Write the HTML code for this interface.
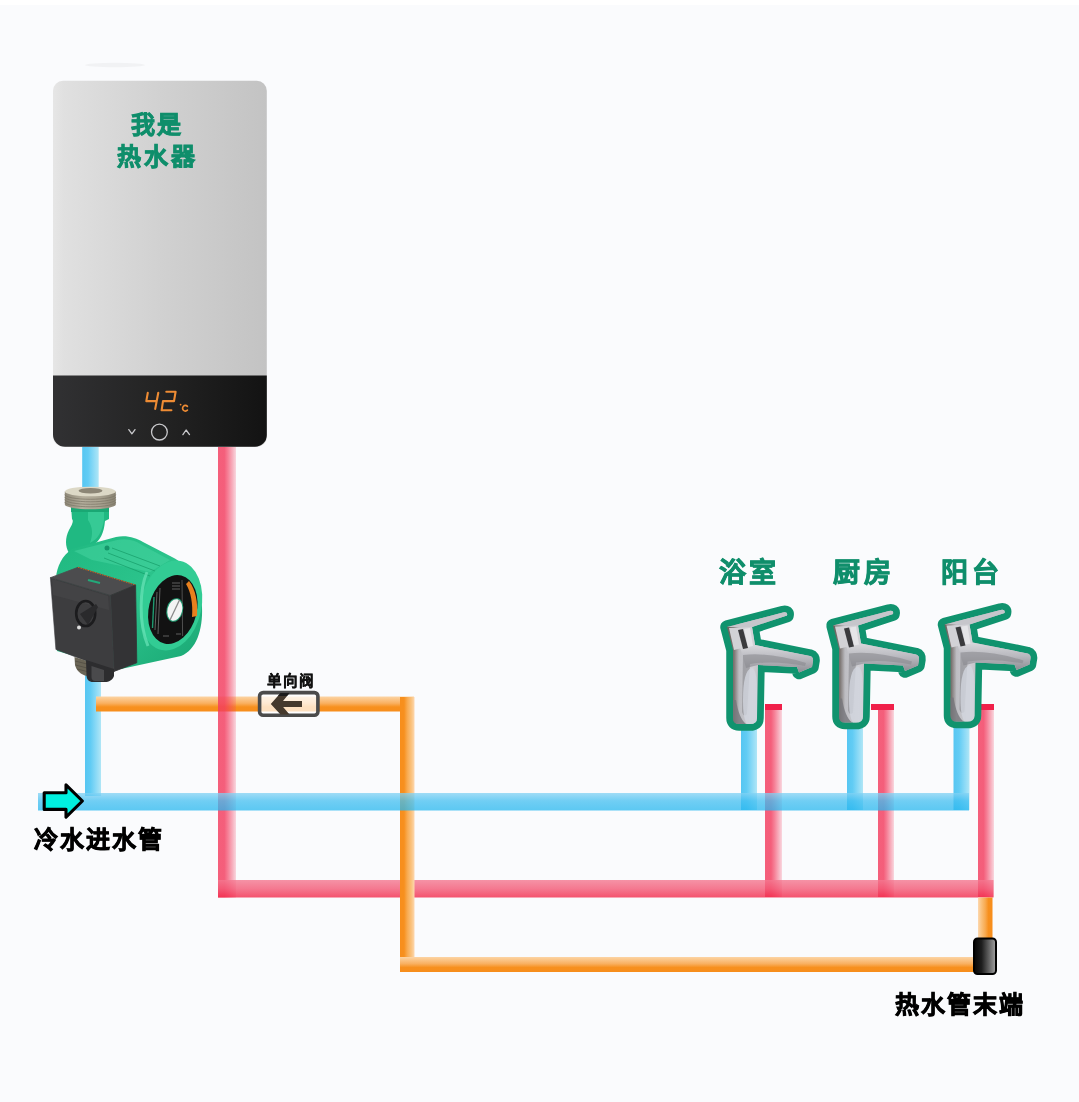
<!DOCTYPE html>
<html lang="zh-CN"><head><meta charset="utf-8">
<style>
html,body{margin:0;padding:0;}
body{width:1079px;height:1102px;position:relative;overflow:hidden;background:#fafbfd;font-family:"Liberation Sans",sans-serif;}
.top{position:absolute;left:0;top:0;width:1079px;height:5px;background:#ffffff;}
svg{position:absolute;left:0;top:0;}
.t{position:absolute;white-space:nowrap;font-weight:bold;line-height:1;-webkit-text-stroke:0.8px currentColor;will-change:transform;}
.g{color:#0f8e6b;}
</style></head>
<body>
<div class="top"></div>
<svg width="1079" height="1102" viewBox="0 0 1079 1102">
<defs>
  <linearGradient id="heater" x1="0" y1="0" x2="1" y2="0">
    <stop offset="0" stop-color="#e6e6e6"/>
    <stop offset="0.05" stop-color="#e0e0e0"/>
    <stop offset="0.5" stop-color="#d1d1d1"/>
    <stop offset="1" stop-color="#c3c3c3"/>
  </linearGradient>
  <linearGradient id="panel" x1="0" y1="0" x2="1" y2="0">
    <stop offset="0" stop-color="#313133"/>
    <stop offset="0.5" stop-color="#232323"/>
    <stop offset="1" stop-color="#131313"/>
  </linearGradient>
  <!-- vertical pipes: left solid -> right light -->
  <linearGradient id="bv" x1="0" y1="0" x2="1" y2="0">
    <stop offset="0" stop-color="#56c6f2"/>
    <stop offset="0.35" stop-color="#62ccf4"/>
    <stop offset="0.65" stop-color="#86d8f6"/>
    <stop offset="1" stop-color="#b0e6f6"/>
  </linearGradient>
  <linearGradient id="rv" x1="0" y1="0" x2="1" y2="0">
    <stop offset="0" stop-color="#f33c5e" stop-opacity="0.82"/>
    <stop offset="0.35" stop-color="#f33c5e" stop-opacity="0.82"/>
    <stop offset="0.55" stop-color="#f33c5e" stop-opacity="0.65"/>
    <stop offset="0.8" stop-color="#f33c5e" stop-opacity="0.40"/>
    <stop offset="1" stop-color="#f33c5e" stop-opacity="0.19"/>
  </linearGradient>
  <linearGradient id="ov" x1="0" y1="0" x2="1" y2="0">
    <stop offset="0" stop-color="#f78e1c"/>
    <stop offset="0.28" stop-color="#f7901e"/>
    <stop offset="0.5" stop-color="#f8aa50"/>
    <stop offset="0.8" stop-color="#fac482"/>
    <stop offset="1" stop-color="#fdd8b0"/>
  </linearGradient>
  <!-- horizontal pipes: top light -> bottom solid -->
  <linearGradient id="bh" x1="0" y1="0" x2="0" y2="1">
    <stop offset="0" stop-color="#82d2f4"/>
    <stop offset="0.45" stop-color="#42bff1"/>
    <stop offset="1" stop-color="#27b7ef"/>
  </linearGradient>
  <linearGradient id="rh" x1="0" y1="0" x2="0" y2="1">
    <stop offset="0" stop-color="#f47890"/>
    <stop offset="0.5" stop-color="#f35875"/>
    <stop offset="1" stop-color="#f3284a"/>
  </linearGradient>
  <linearGradient id="oh" x1="0" y1="0" x2="0" y2="1">
    <stop offset="0" stop-color="#fcd4a4"/>
    <stop offset="0.45" stop-color="#f9b060"/>
    <stop offset="0.7" stop-color="#f7901e"/>
    <stop offset="1" stop-color="#f78e1c"/>
  </linearGradient>
  <linearGradient id="cap" x1="0" y1="0" x2="1" y2="0">
    <stop offset="0" stop-color="#050505"/>
    <stop offset="0.35" stop-color="#1e1e1e"/>
    <stop offset="1" stop-color="#a4a4a4"/>
  </linearGradient>
</defs>

<!-- heater shadow -->
<ellipse cx="115" cy="65" rx="30" ry="2.2" fill="#f1f2f4"/>
<!-- heater body -->
<rect x="53" y="80.8" width="213.8" height="366" rx="10" fill="url(#heater)"/>
<path d="M53 375.5 H266.8 V435 A11.8 11.8 0 0 1 255 446.8 H65 A12 12 0 0 1 53 434.8 Z" fill="url(#panel)"/>

<!-- display -->
<g fill="none" stroke="#ee8c34" stroke-width="2.1" stroke-linecap="round" stroke-linejoin="round">
  <path d="M147.8 392.8 L146.3 401.1 H156.7 M158.3 392.8 L155.2 408.9"/>
  <path d="M166.3 391.7 H175.6 L174 401.1 H163 L161.6 410.3 H171.4"/>
  <path d="M187.4 406.3 A2.8 2.8 0 1 0 187.4 410.2" stroke-width="1.7"/>
</g>
<circle cx="180.6" cy="404.6" r="0.9" fill="#f08a2c"/>
<g fill="none" stroke="#c9c9cc" stroke-width="1.3" stroke-linecap="round" stroke-linejoin="round">
  <circle cx="159.4" cy="432.1" r="7.9"/>
  <path d="M128.8 429.6 L131.9 433.8 L135 429.6"/>
  <path d="M182.9 434.6 L186.1 430 L189.5 434.6"/>
</g>
<!-- ===== pipes ===== -->
<!-- blue main vertical -->
<rect x="82.2" y="447" width="16.5" height="45" fill="url(#bv)"/>
<rect x="85" y="660" width="16" height="136" fill="url(#bv)"/>
<!-- orange top horizontal -->
<rect x="96" y="696.5" width="318" height="15" fill="url(#oh)"/>
<!-- red main vertical -->
<rect x="218" y="447" width="18" height="450.5" fill="url(#rv)"/>
<!-- red faucet verticals -->
<rect x="765" y="704" width="17" height="193" fill="url(#rv)"/>
<rect x="878" y="704" width="16" height="193" fill="url(#rv)"/>
<rect x="978" y="704" width="16" height="193" fill="url(#rv)"/>
<rect x="765" y="704" width="17" height="6" fill="#f0204a"/>
<rect x="871" y="704" width="23" height="6" fill="#f0204a"/>
<rect x="978" y="704" width="16" height="6" fill="#f0204a"/>
<!-- red horizontal -->
<rect x="218" y="880" width="775.5" height="17.5" fill="url(#rh)" opacity="0.8"/>
<!-- orange left vertical -->
<rect x="400" y="697" width="14.5" height="275" fill="url(#ov)"/>
<!-- orange right vertical -->
<rect x="978" y="897.5" width="14.5" height="45" fill="url(#ov)" transform="rotate(180 985.25 920)"/>
<!-- orange bottom horizontal -->
<rect x="400" y="957" width="575" height="15" fill="url(#oh)"/>
<!-- blue faucet verticals -->
<rect x="741" y="727" width="16" height="83" fill="url(#bv)"/>
<rect x="847" y="727" width="16" height="83" fill="url(#bv)"/>
<rect x="953.5" y="727" width="16" height="83" fill="url(#bv)"/>
<!-- blue horizontal -->
<rect x="38" y="793" width="931" height="17.5" fill="url(#bh)" opacity="0.75"/>

<!-- ===== pump ===== -->
<defs>
  <linearGradient id="nutside" x1="0" y1="0" x2="1" y2="0">
    <stop offset="0" stop-color="#8e8878"/>
    <stop offset="0.35" stop-color="#b4ae9c"/>
    <stop offset="0.7" stop-color="#a8a290"/>
    <stop offset="1" stop-color="#888272"/>
  </linearGradient>
  <linearGradient id="pgreen" x1="0" y1="0" x2="1" y2="1">
    <stop offset="0" stop-color="#1fb880"/>
    <stop offset="0.5" stop-color="#2cc48c"/>
    <stop offset="1" stop-color="#19a673"/>
  </linearGradient>
  <linearGradient id="silver" x1="0" y1="0" x2="1" y2="0">
    <stop offset="0" stop-color="#5e5a58"/>
    <stop offset="0.12" stop-color="#8a8a8e"/>
    <stop offset="0.3" stop-color="#d4d4d8"/>
    <stop offset="0.55" stop-color="#b4b4ba"/>
    <stop offset="0.8" stop-color="#dcdce0"/>
    <stop offset="1" stop-color="#9a9aa0"/>
  </linearGradient>
</defs>
<!-- neck -->
<path d="M71 506 H109 V519 L105 521 C104 533 100 541 93 545 L69 553 C65 546 65 538 69 530 C72 525 74 521 72 519 Z" fill="#20b982"/>
<path d="M88 512 H104 V520 C102 532 98 539 90 543 C93 535 93 527 88 520 Z" fill="#40d29c" opacity="0.7"/>
<rect x="71" y="506" width="38" height="6" fill="#1aa874"/>
<!-- nut -->
<path d="M64.8 491.5 V504.5 A25.5 4.8 0 0 0 115.8 504.5 V491.5 Z" fill="url(#nutside)"/>
<g stroke="#7a7464" stroke-width="0.8" opacity="0.85" fill="none">
  <path d="M64.8 494.5 A25.5 4.8 0 0 0 115.8 494.5"/>
  <path d="M64.8 497 A25.5 4.8 0 0 0 115.8 497"/>
  <path d="M64.8 499.5 A25.5 4.8 0 0 0 115.8 499.5"/>
  <path d="M64.8 502 A25.5 4.8 0 0 0 115.8 502"/>
</g>
<ellipse cx="90.3" cy="491.5" rx="25.5" ry="4.8" fill="#dcd8c6"/>
<ellipse cx="90.5" cy="490.8" rx="12" ry="2.8" fill="#8c8676"/>
<!-- main green body -->
<path d="M56 578 C57 566 62 556 72 549 L116 537 C127 535 136 538 143 542 L172 557 C190 566 201 585 202 607 C203 630 196 650 181 656 L121 669 L57 651 Z" fill="url(#pgreen)"/>
<path d="M74 551 L117 540 C127 538 135 540 142 545 L170 560 L150 572 L92 560 Z" fill="#48d6a2" opacity="0.5"/>
<g stroke="#159c68" stroke-width="1" opacity="0.7">
  <path d="M112 548 L160 566"/>
  <path d="M108 553 L155 571"/>
  <path d="M104 558 L150 576"/>
</g>
<circle cx="107" cy="548" r="2.5" fill="#15966a"/>
<!-- end cap ring -->
<ellipse cx="171" cy="605.5" rx="30.5" ry="45.5" transform="rotate(12 171 605.5)" fill="#32cc94"/>
<path d="M147 572 C140 588 138 622 148 646" stroke="#6ae4b8" stroke-width="3" fill="none" opacity="0.7"/>
<!-- label -->
<ellipse cx="172.8" cy="609.5" rx="24" ry="35" transform="rotate(14 172.8 609.5)" fill="#121212"/>
<path d="M189 581 C196 590 198 603 197 616 L192 617 C193 604 191 592 186 584 Z" fill="#e8801e"/>
<path d="M182 580 L182.6 636" stroke="#6a6a6a" stroke-width="0.7"/>
<g stroke="#8c8c8c" stroke-width="0.8" opacity="0.8">
  <path d="M157 592 L155 630"/><path d="M160 588 L158 634"/>
  <path d="M172 583 H180"/><path d="M172 586 H180"/><path d="M172 589 H180"/>
  <path d="M163 636 H169"/><path d="M176 634 H181"/>
</g>
<path d="M154 597 L152.5 628" stroke="#1f9a70" stroke-width="1.4"/>
<ellipse cx="174.8" cy="610" rx="8.3" ry="12" transform="rotate(14 174.8 610)" fill="#1f9a70"/>
<ellipse cx="174.8" cy="610" rx="7.3" ry="11" transform="rotate(14 174.8 610)" fill="#f4f4f4"/>
<path d="M170 620 L179.5 600" stroke="#8a8a8a" stroke-width="1.3"/>
<!-- control box -->
<path d="M50.4 577.7 L78 567.3 L135.6 585 L110.5 595.4 Z" fill="#4c4c4e" stroke="#4c4c4e" stroke-width="0.8" stroke-linejoin="round"/>
<path d="M110.5 595.4 L135.6 585 L136.8 662.8 L114.1 671.4 Z" fill="#333335" stroke="#333335" stroke-width="0.8" stroke-linejoin="round"/>
<path d="M50.4 577.7 L110.5 595.4 L114.1 671.4 L55.9 649.4 Z" fill="#3d3d3f" stroke="#3d3d3f" stroke-width="0.6" stroke-linejoin="round"/>
<path d="M52 579 L108 596 L109 610 L53 595 Z" fill="#48484a" opacity="0.6"/>
<path d="M78 567.3 L135.6 585" stroke="#c8641e" stroke-width="1" stroke-dasharray="1.5 1"/>
<path d="M88 580 L100 583" stroke="#23a97a" stroke-width="2"/>
<!-- connector -->
<path d="M74.5 657 L87 661 V676 C81 675 76 670 75 665 Z" fill="#6a6556"/>
<g stroke="#4f4b40" stroke-width="0.7"><path d="M75 661 L87 664"/><path d="M75.5 665 L87 668"/><path d="M77 669 L87 671.5"/></g>
<path d="M86 660 L114 669 V676 C112.5 680 109 682 105 682 H93 C89 682 86.5 679.5 86.5 675 Z" fill="#2d2d2f"/>
<path d="M91.5 666 L104 670 V681 H95 C93 681 91.5 679.5 91.5 677 Z" fill="#4a4a4c"/>
<!-- knob -->
<ellipse cx="85.7" cy="613.5" rx="9.5" ry="12.5" fill="none" stroke="#1c1c1e" stroke-width="2.6"/>
<path d="M80 614 L96 604 L98 607 L88 625 Z" fill="#2a2a2c"/>
<circle cx="79" cy="627.6" r="2" fill="#dddddd"/>
<!-- ===== faucets ===== -->
<defs>
  <linearGradient id="fbody" x1="0" y1="0" x2="1" y2="0">
    <stop offset="0" stop-color="#6a625e"/>
    <stop offset="0.08" stop-color="#7a7370"/>
    <stop offset="0.14" stop-color="#bdbdc2"/>
    <stop offset="0.3" stop-color="#cfcfd4"/>
    <stop offset="0.5" stop-color="#a9a9b0"/>
    <stop offset="0.7" stop-color="#d2d2d8"/>
    <stop offset="1" stop-color="#bcbcc2"/>
  </linearGradient>
  <linearGradient id="fspout" x1="0" y1="0" x2="0" y2="1">
    <stop offset="0" stop-color="#d8d8dc"/>
    <stop offset="0.5" stop-color="#b8b8be"/>
    <stop offset="1" stop-color="#8e8e94"/>
  </linearGradient>
  
</defs>
<g>
    <path d="M727 627 L783 612.5 Q788 611.5 787 615.5 L752 627 L755 645 L810 656 Q813.5 657 813 661 L812 667 L799 672.5 L797 667 L758 665 L757 718 Q757 724 750 724 L739 724 Q733 724 733 718 L733 650 Z"
      fill="#10936e" stroke="#10936e" stroke-width="13.5" stroke-linejoin="round"/>
    <path d="M727 627 L783 612.5 Q788 611.5 787 615.5 L752 627 L755 645 L810 656 Q813.5 657 813 661 L812 667 L799 672.5 L797 667 L758 665 L757 718 Q757 724 750 724 L739 724 Q733 724 733 718 L733 650 Z"
      fill="url(#fbody)"/>
    <path d="M740 647 L755 645 L810 656 Q813.5 657 813 661 L812 667 L799 672.5 L797 667 L758 665 L746 668 Z" fill="url(#fspout)"/>
    <path d="M727 627 L783 612.5 Q788 611.5 787 615.5 L752 627 Z" fill="#c6c6cb"/>
    <path d="M729 628 L752 627 L755 645 L734 650 Z" fill="#d2d2d6"/>
    <path d="M738 630 L743 629 L748 648 L743 649 Z" fill="#202022" opacity="0.85"/><path d="M744 629 L750 628 L753 646 L748 647 Z" fill="#ececf0" opacity="0.7"/>
    <path d="M743 655 Q770 652 806 663 L805 666 Q775 660 750 664 L747 714 Q744 718 742 712 Z" fill="#8a8a90" opacity="0.6"/>
    <path d="M736 700 C738 712 741 720 746 724 L739 724 Q733 724 733 718 L733 700 Z" fill="#76767a" opacity="0.8"/><path d="M743 700 C743 680 746 670 751 668 C755 668 757 675 757 690 L757 718 Q757 724 750 724 L747 724 C744 720 743 712 743 700 Z" fill="#d2d6de" opacity="0.8"/>
  </g>
<g transform="translate(106,-1.5)">
    <path d="M727 627 L783 612.5 Q788 611.5 787 615.5 L752 627 L755 645 L810 656 Q813.5 657 813 661 L812 667 L799 672.5 L797 667 L758 665 L757 718 Q757 724 750 724 L739 724 Q733 724 733 718 L733 650 Z"
      fill="#10936e" stroke="#10936e" stroke-width="13.5" stroke-linejoin="round"/>
    <path d="M727 627 L783 612.5 Q788 611.5 787 615.5 L752 627 L755 645 L810 656 Q813.5 657 813 661 L812 667 L799 672.5 L797 667 L758 665 L757 718 Q757 724 750 724 L739 724 Q733 724 733 718 L733 650 Z"
      fill="url(#fbody)"/>
    <path d="M740 647 L755 645 L810 656 Q813.5 657 813 661 L812 667 L799 672.5 L797 667 L758 665 L746 668 Z" fill="url(#fspout)"/>
    <path d="M727 627 L783 612.5 Q788 611.5 787 615.5 L752 627 Z" fill="#c6c6cb"/>
    <path d="M729 628 L752 627 L755 645 L734 650 Z" fill="#d2d2d6"/>
    <path d="M738 630 L743 629 L748 648 L743 649 Z" fill="#202022" opacity="0.85"/><path d="M744 629 L750 628 L753 646 L748 647 Z" fill="#ececf0" opacity="0.7"/>
    <path d="M743 655 Q770 652 806 663 L805 666 Q775 660 750 664 L747 714 Q744 718 742 712 Z" fill="#8a8a90" opacity="0.6"/>
    <path d="M736 700 C738 712 741 720 746 724 L739 724 Q733 724 733 718 L733 700 Z" fill="#76767a" opacity="0.8"/><path d="M743 700 C743 680 746 670 751 668 C755 668 757 675 757 690 L757 718 Q757 724 750 724 L747 724 C744 720 743 712 743 700 Z" fill="#d2d6de" opacity="0.8"/>
  </g>
<g transform="translate(217.5,-2.5)">
    <path d="M727 627 L783 612.5 Q788 611.5 787 615.5 L752 627 L755 645 L810 656 Q813.5 657 813 661 L812 667 L799 672.5 L797 667 L758 665 L757 718 Q757 724 750 724 L739 724 Q733 724 733 718 L733 650 Z"
      fill="#10936e" stroke="#10936e" stroke-width="13.5" stroke-linejoin="round"/>
    <path d="M727 627 L783 612.5 Q788 611.5 787 615.5 L752 627 L755 645 L810 656 Q813.5 657 813 661 L812 667 L799 672.5 L797 667 L758 665 L757 718 Q757 724 750 724 L739 724 Q733 724 733 718 L733 650 Z"
      fill="url(#fbody)"/>
    <path d="M740 647 L755 645 L810 656 Q813.5 657 813 661 L812 667 L799 672.5 L797 667 L758 665 L746 668 Z" fill="url(#fspout)"/>
    <path d="M727 627 L783 612.5 Q788 611.5 787 615.5 L752 627 Z" fill="#c6c6cb"/>
    <path d="M729 628 L752 627 L755 645 L734 650 Z" fill="#d2d2d6"/>
    <path d="M738 630 L743 629 L748 648 L743 649 Z" fill="#202022" opacity="0.85"/><path d="M744 629 L750 628 L753 646 L748 647 Z" fill="#ececf0" opacity="0.7"/>
    <path d="M743 655 Q770 652 806 663 L805 666 Q775 660 750 664 L747 714 Q744 718 742 712 Z" fill="#8a8a90" opacity="0.6"/>
    <path d="M736 700 C738 712 741 720 746 724 L739 724 Q733 724 733 718 L733 700 Z" fill="#76767a" opacity="0.8"/><path d="M743 700 C743 680 746 670 751 668 C755 668 757 675 757 690 L757 718 Q757 724 750 724 L747 724 C744 720 743 712 743 700 Z" fill="#d2d6de" opacity="0.8"/>
  </g>
<!-- end cap -->
<rect x="974" y="938.5" width="22" height="35.5" rx="3.5" fill="url(#cap)" stroke="#000" stroke-width="2"/>

<!-- valve -->
<rect x="259.6" y="692.6" width="58.3" height="22.6" rx="3.5" fill="#ffffff" fill-opacity="0.72" stroke="#4b4b4b" stroke-width="3.6"/>
<path d="M270.8 704 L280.5 693 H289.5 L280.6 704 L289.5 714.6 H280.5 Z" fill="#45392d"/>
<path d="M280.5 693 H289.5 L287 696 H278 Z" fill="#1c1c1c"/>
<rect x="279" y="701" width="23" height="6" fill="#45392d"/>
<!-- cold water arrow -->
<path d="M44.2 792.8 H66 V784.8 L82.4 801 L66 817.2 V809.4 H44.2 Z" fill="#00f0e0" stroke="#000" stroke-width="3.1" stroke-linejoin="round"/>

</svg>

<div class="t g" style="left:131px;top:113px;font-size:24px;letter-spacing:2px;">我是</div>
<div class="t g" style="left:117px;top:145px;font-size:24px;letter-spacing:3px;">热水器</div>
<div class="t" style="left:267px;top:674px;font-size:14.5px;letter-spacing:2px;color:#111;-webkit-text-stroke:0.35px #111;">单向阀</div>
<div class="t" style="left:34px;top:828px;font-size:24px;letter-spacing:2px;color:#000;">冷水进水管</div>
<div class="t" style="left:895px;top:993px;font-size:24px;letter-spacing:2px;color:#000;">热水管末端</div>
<div class="t g" style="left:719px;top:560px;font-size:27px;letter-spacing:3px;">浴室</div>
<div class="t g" style="left:833px;top:560px;font-size:27px;letter-spacing:4px;">厨房</div>
<div class="t g" style="left:941px;top:560px;font-size:27px;letter-spacing:4px;">阳台</div>
</body></html>
